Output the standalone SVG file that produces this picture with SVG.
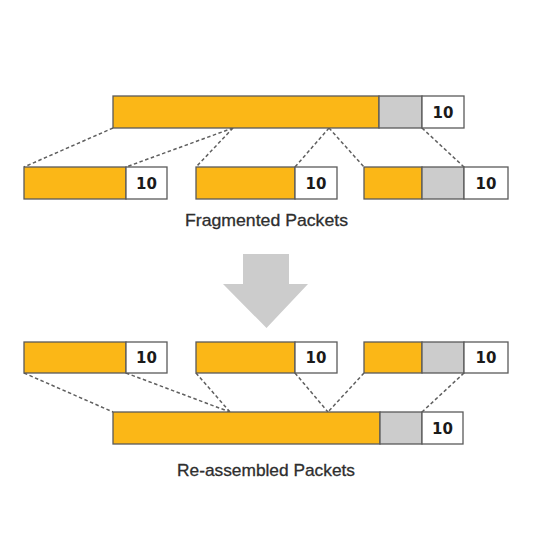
<svg xmlns="http://www.w3.org/2000/svg" width="540" height="540" viewBox="0 0 540 540">
<style>
.o{fill:#FBB717;stroke:#5a5a5a;stroke-width:1.3}
.g{fill:#CCCCCC;stroke:#5a5a5a;stroke-width:1.3}
.w{fill:#FFFFFF;stroke:#5a5a5a;stroke-width:1.3}
.n{font-family:"DejaVu Sans","Liberation Sans",sans-serif;font-weight:bold;font-size:15px;fill:#1a1a1a;text-anchor:middle}
.lbl{font-family:"Liberation Sans",Arial,sans-serif;font-size:17px;fill:#2e2e2e;text-anchor:middle;stroke:#2e2e2e;stroke-width:0.3}
.d{stroke:#5f5f5f;stroke-width:1.5;stroke-dasharray:3.5,2.5;fill:none}
</style>
<rect width="540" height="540" fill="#FFFFFF"/>
<g id="connectors">
<line class="d" x1="113" y1="128" x2="24" y2="167"/>
<line class="d" x1="233" y1="128" x2="126" y2="167"/>
<line class="d" x1="233" y1="128" x2="196" y2="167"/>
<line class="d" x1="329" y1="128" x2="295" y2="167"/>
<line class="d" x1="329" y1="128" x2="364" y2="167"/>
<line class="d" x1="422" y1="128" x2="464" y2="167"/>
<line class="d" x1="24" y1="373" x2="113" y2="412"/>
<line class="d" x1="126" y1="373" x2="230" y2="412"/>
<line class="d" x1="196" y1="373" x2="230" y2="412"/>
<line class="d" x1="295" y1="373" x2="328" y2="412"/>
<line class="d" x1="364" y1="373" x2="328" y2="412"/>
<line class="d" x1="464" y1="373" x2="422" y2="412"/>
</g>
<g id="packet-top">
<rect class="o" x="113" y="96" width="266" height="32"/>
<rect class="g" x="379" y="96" width="43" height="32"/>
<rect class="w" x="422" y="96" width="42" height="32"/>
<text class="n" x="443" y="117.5">10</text>
</g>
<g id="frag1">
<rect class="o" x="24" y="167" width="102" height="32"/>
<rect class="w" x="126" y="167" width="41" height="32"/>
<text class="n" x="146.5" y="188.5">10</text>
</g>
<g id="frag2">
<rect class="o" x="196" y="167" width="99" height="32"/>
<rect class="w" x="295" y="167" width="42" height="32"/>
<text class="n" x="316" y="188.5">10</text>
</g>
<g id="frag3">
<rect class="o" x="364" y="167" width="58" height="32"/>
<rect class="g" x="422" y="167" width="42" height="32"/>
<rect class="w" x="464" y="167" width="44" height="32"/>
<text class="n" x="486" y="188.5">10</text>
</g>
<text class="lbl" x="266.5" y="226" textLength="163" lengthAdjust="spacingAndGlyphs">Fragmented Packets</text>
<g id="arrow">
<polygon points="243,254 289,254 289,284 308,284 266.5,328 223,284 243,284" fill="#CCCCCC"/>
</g>
<g id="rfrag1">
<rect class="o" x="24" y="342" width="102" height="31"/>
<rect class="w" x="126" y="342" width="41" height="31"/>
<text class="n" x="146.5" y="363">10</text>
</g>
<g id="rfrag2">
<rect class="o" x="196" y="342" width="99" height="31"/>
<rect class="w" x="295" y="342" width="42" height="31"/>
<text class="n" x="316" y="363">10</text>
</g>
<g id="rfrag3">
<rect class="o" x="364" y="342" width="58" height="31"/>
<rect class="g" x="422" y="342" width="42" height="31"/>
<rect class="w" x="464" y="342" width="44" height="31"/>
<text class="n" x="486" y="363">10</text>
</g>
<g id="packet-bottom">
<rect class="o" x="113" y="412" width="267" height="32"/>
<rect class="g" x="380" y="412" width="42" height="32"/>
<rect class="w" x="422" y="412" width="41" height="32"/>
<text class="n" x="442.5" y="433.5">10</text>
</g>
<text class="lbl" x="266" y="476" textLength="178" lengthAdjust="spacingAndGlyphs">Re-assembled Packets</text>
</svg>
